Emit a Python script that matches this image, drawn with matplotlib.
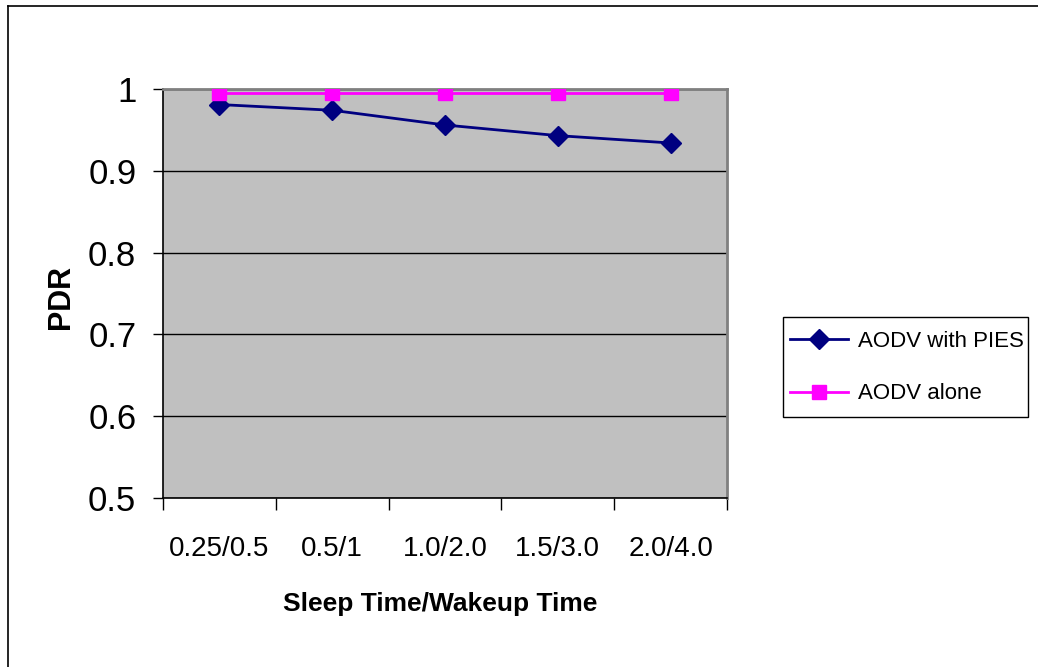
import matplotlib
matplotlib.use("Agg")
import matplotlib.pyplot as plt
from matplotlib.lines import Line2D
from matplotlib.patches import Rectangle

plt.rcParams['font.family'] = ['Liberation Sans', 'DejaVu Sans']

categories = ["0.25/0.5", "0.5/1", "1.0/2.0", "1.5/3.0", "2.0/4.0"]
aodv_pies = [0.981, 0.974, 0.956, 0.943, 0.934]
aodv_alone = [0.995, 0.995, 0.995, 0.995, 0.995]
y_ticks = [0.5, 0.6, 0.7, 0.8, 0.9, 1.0]
y_tick_labels = ["0.5", "0.6", "0.7", "0.8", "0.9", "1"]

W, H = 1038, 667
fig = plt.figure(figsize=(W / 100, H / 100), dpi=100)
ax = fig.add_axes([163 / W, 1 - 498 / H, (727 - 163) / W, (498 - 89) / H])
ax.set_facecolor("#C0C0C0")

x = list(range(len(categories)))
ax.plot(x, aodv_pies, color="#000080", lw=2, marker="D", ms=10,
        label="AODV with PIES", zorder=3)
ax.plot(x, aodv_alone, color="#FF00FF", lw=2, marker="s", ms=9.5,
        label="AODV alone", zorder=3)

ax.set_xlim(-0.5, len(categories) - 0.5)
ax.set_ylim(0.5, 1.0)
ax.set_yticks(y_ticks)
ax.set_yticklabels(y_tick_labels, fontsize=25)
ax.yaxis.grid(True, color="black", lw=1)
ax.set_axisbelow(True)

# category boundaries carry the tick marks, centres carry the labels
ax.set_xticks([i - 0.5 for i in range(len(categories) + 1)])
ax.set_xticklabels([])
ax.set_xticks(x, minor=True)
ax.set_xticklabels(categories, minor=True, fontsize=20)
ax.tick_params(axis="x", which="major", direction="out", length=8.6, color="black", width=1)
ax.tick_params(axis="x", which="minor", length=0, pad=27)
ax.tick_params(axis="y", direction="out", length=7.2, pad=12, color="black", width=1)

for side in ("top", "right"):
    ax.spines[side].set_color("#808080")
    ax.spines[side].set_linewidth(2)
ax.spines["left"].set_color("black")
ax.spines["left"].set_linewidth(1.2)
ax.spines["bottom"].set_color("black")
ax.spines["bottom"].set_linewidth(1.2)

ax.set_ylabel("PDR", fontsize=22, fontweight="bold")
ax.yaxis.set_label_coords((61 - 163) / (727 - 163), (498 - 297) / (498 - 89))
ax.set_xlabel("Sleep Time/Wakeup Time", fontsize=19, fontweight="bold")
ax.xaxis.set_label_coords((440 - 163) / (727 - 163), (498 - 604) / (498 - 89))
ax.xaxis.label.set_va("center")
ax.yaxis.label.set_va("center")

# legend entries, with a separately drawn box around them
leg = fig.legend(loc="center left", bbox_to_anchor=(790 / W, 1 - 367.5 / H),
                 fontsize=16, frameon=False, borderpad=0, labelspacing=1.42,
                 handlelength=2.6, handletextpad=0.45, borderaxespad=0)
fig.add_artist(Rectangle((783 / W, 1 - 417 / H), (1028 - 783) / W, (417 - 317) / H,
                         transform=fig.transFigure, fill=False, edgecolor="black", lw=1))

# outer chart border
fig.add_artist(Line2D([8 / W, 8 / W], [0, 1 - 6 / H], transform=fig.transFigure,
                      color="black", lw=1.2))
fig.add_artist(Line2D([8 / W, 1], [1 - 6 / H, 1 - 6 / H], transform=fig.transFigure,
                      color="black", lw=1.2))

fig.savefig("out.png", dpi=100)
